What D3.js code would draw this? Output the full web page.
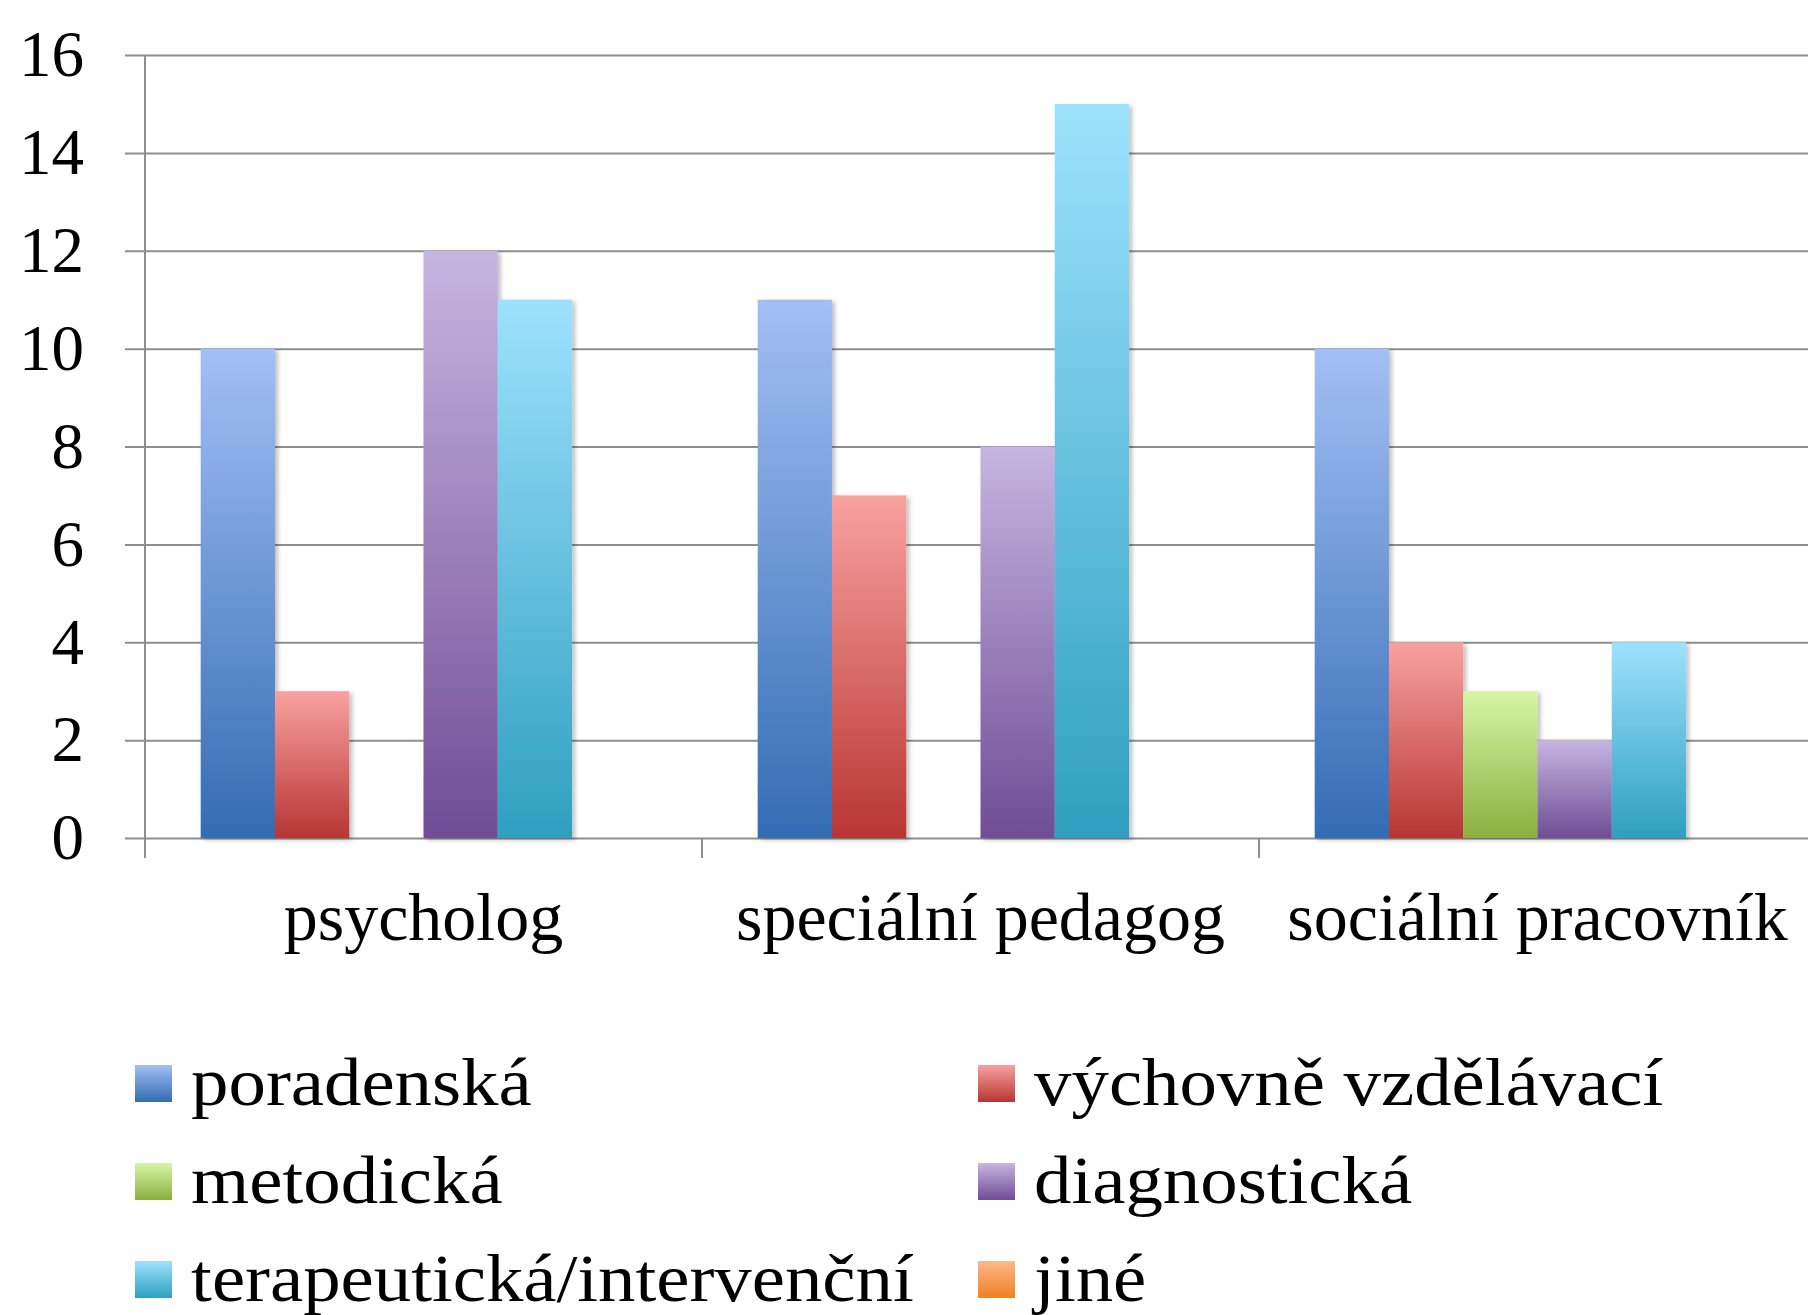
<!DOCTYPE html>
<html>
<head>
<meta charset="utf-8">
<script src="https://cdn.jsdelivr.net/npm/d3@7"></script>
<style>
  body { margin: 0; background: #fff; }
  svg { display: block; font-family: "Liberation Serif", "DejaVu Serif", serif; }
</style>
</head>
<body>
<div id="chart"></div>
<script>
// data
const categories = ["psycholog", "speciální pedagog", "sociální pracovník"];
const seriesNames = ["poradenská", "výchovně vzdělávací", "metodická", "diagnostická", "terapeutická/intervenční", "jiné"];
const poradenska = [10, 11, 10];
const vychovne = [3, 7, 4];
const metodicka = [0, 0, 3];
const diagnosticka = [12, 8, 2];
const terapeuticka = [11, 15, 4];
const jine = [0, 0, 0];
const yTicks = [0, 2, 4, 6, 8, 10, 12, 14, 16];

const seriesValues = [poradenska, vychovne, metodicka, diagnosticka, terapeuticka, jine];
const colorTop = ["#a3bff5", "#f8a2a0", "#d7f6a6", "#c6b5e1", "#9de2fd", "#fdb98a"];
const colorBottom = ["#336cb3", "#b83533", "#8bae3f", "#6f4d95", "#2f9fbf", "#f08024"];

const W = 1808, H = 1315;
const plotL = 145, plotR = 1816, plotT = 55, plotB = 838;

const svg = d3.select("#chart").append("svg").attr("width", W).attr("height", H);
svg.append("rect").attr("width", W).attr("height", H).attr("fill", "#fff");

const defs = svg.append("defs");
seriesNames.forEach((s, i) => {
    const g = defs.append("linearGradient").attr("id", "grad" + i)
        .attr("x1", 0).attr("y1", 0).attr("x2", 0).attr("y2", 1);
    g.append("stop").attr("offset", "0%").attr("stop-color", colorTop[i]);
    g.append("stop").attr("offset", "100%").attr("stop-color", colorBottom[i]);
});
const shadow = defs.append("filter").attr("id", "shadow")
    .attr("x", "-10%").attr("y", "-5%").attr("width", "130%").attr("height", "115%");
shadow.append("feDropShadow").attr("dx", 3).attr("dy", 2).attr("stdDeviation", 2)
    .attr("flood-color", "#000").attr("flood-opacity", 0.25);

const y = d3.scaleLinear().domain([0, 16]).range([plotB, plotT]);
const x0 = d3.scaleBand().domain(categories).range([plotL, plotR]);
const bw = x0.bandwidth();
const x1 = d3.scaleBand().domain(seriesNames).range([bw * 0.1, bw * 0.9]);

// gridlines + y labels
const yAxis = d3.axisLeft(y).tickValues(yTicks).tickSize(plotR - 125).tickPadding(41);
const ga = svg.append("g").attr("transform", `translate(${plotR},0)`).call(yAxis);
ga.select(".domain").remove();
ga.selectAll(".tick line").attr("stroke", "#8e8e8e").attr("stroke-width", 2);
ga.selectAll(".tick text").attr("fill", "#000").style("font-size", "65px")
    .style("font-family", "'Liberation Serif', serif");

// vertical axis line
svg.append("line").attr("x1", plotL).attr("x2", plotL).attr("y1", plotT).attr("y2", plotB + 20)
    .attr("stroke", "#8e8e8e").attr("stroke-width", 2);

// category boundary ticks
svg.selectAll(".xtick").data(categories.slice(1)).enter().append("line")
    .attr("x1", d => x0(d)).attr("x2", d => x0(d))
    .attr("y1", plotB).attr("y2", plotB + 20)
    .attr("stroke", "#8e8e8e").attr("stroke-width", 2);

// bars
const groups = svg.selectAll(".grp").data(categories).enter().append("g")
    .attr("transform", d => `translate(${x0(d)},0)`);
groups.selectAll("rect")
    .data((c, ci) => seriesNames.map((s, si) => ({ s, si, value: seriesValues[si][ci] })).filter(d => d.value > 0))
    .enter().append("rect")
    .attr("x", d => x1(d.s))
    .attr("y", d => y(d.value))
    .attr("width", x1.bandwidth())
    .attr("height", d => plotB - y(d.value))
    .attr("fill", d => `url(#grad${d.si})`)
    .attr("filter", "url(#shadow)");

// category labels
svg.selectAll(".cat").data(categories).enter().append("text")
    .attr("x", d => x0(d) + bw / 2).attr("y", 940)
    .attr("text-anchor", "middle").style("font-size", "68px").text(d => d);

// legend
const legendCols = [135, 978];
const legendRows = [1105, 1203, 1301];
const lg = svg.selectAll(".leg").data(seriesNames).enter().append("g")
    .attr("transform", (d, i) => `translate(${legendCols[i % 2]},${legendRows[Math.floor(i / 2)]})`);
lg.append("rect").attr("x", 0).attr("y", -40).attr("width", 37).attr("height", 37)
    .attr("fill", (d, i) => `url(#grad${i})`);
lg.append("text").attr("x", 51).attr("y", 0).style("font-size", "68px")
    .attr("transform", "scale(1.1,1)")
    .text(d => d);
</script>
</body>
</html>
